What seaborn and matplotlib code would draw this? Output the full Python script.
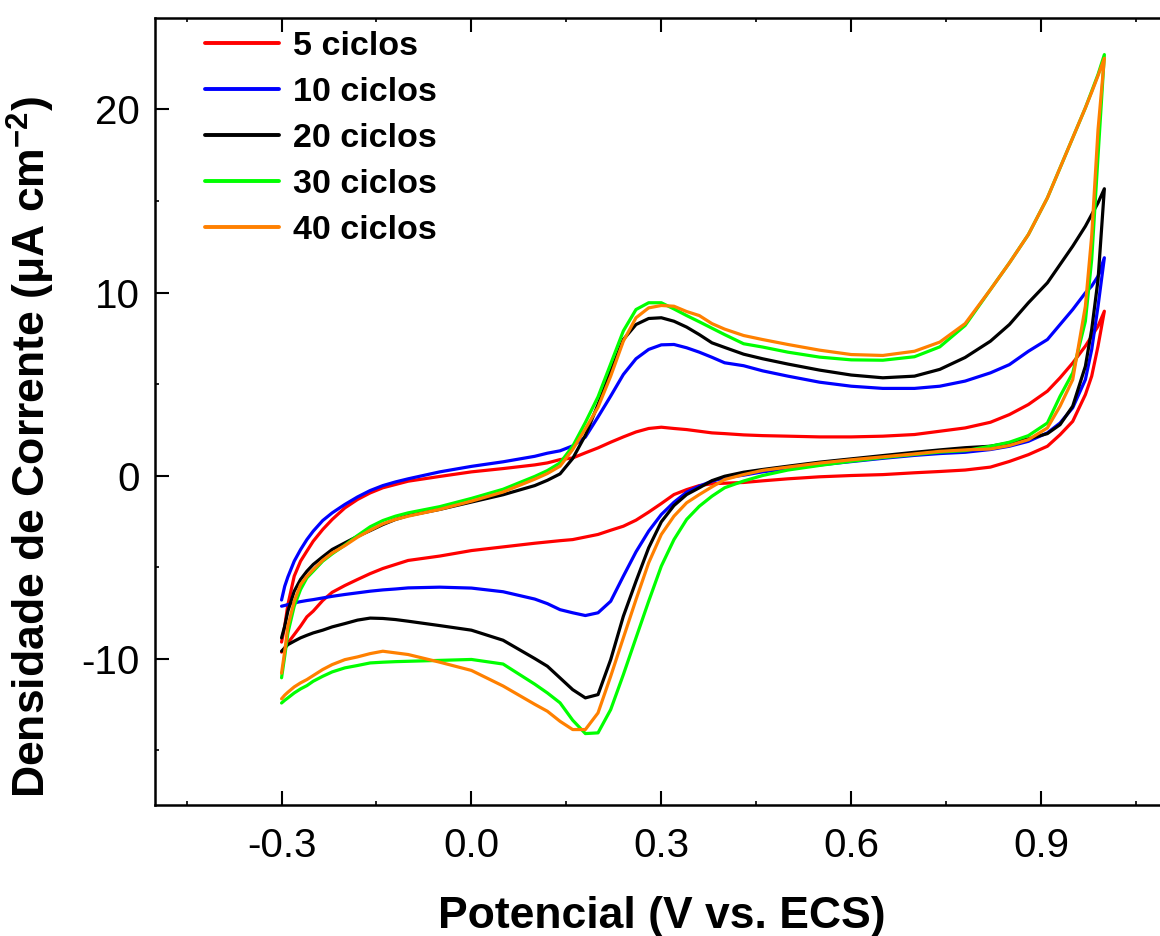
import numpy as np
import pandas as pd
import matplotlib
matplotlib.use("Agg")
import matplotlib.pyplot as plt
import seaborn as sns
from matplotlib.ticker import FixedLocator

# Potential grid (V vs. ECS), ascending
E = [-0.30, -0.295, -0.29, -0.28, -0.27, -0.26, -0.25, -0.235, -0.22, -0.20, -0.18,
     -0.16, -0.14, -0.12, -0.10, -0.05, 0.00, 0.05, 0.10, 0.12, 0.14, 0.16, 0.18,
     0.20, 0.22, 0.24, 0.26, 0.28, 0.30, 0.32, 0.34, 0.36, 0.38, 0.40, 0.43, 0.46,
     0.50, 0.55, 0.60, 0.65, 0.70, 0.74, 0.78, 0.82, 0.85, 0.88, 0.91, 0.93, 0.95,
     0.97, 0.98, 0.99, 1.00]

series_names = ["5 ciclos", "10 ciclos", "20 ciclos", "30 ciclos", "40 ciclos"]
colors = ["#FF0000", "#0000FF", "#000000", "#00FF00", "#FF8000"]

# forward (anodic) and reverse (cathodic) sweep currents, uA cm-2, aligned with E
fwd_5 = [-9.1, -8.23, -7.05, -5.5, -4.68, -4.13, -3.59, -2.95, -2.4, -1.77, -1.31,
         -0.95, -0.67, -0.49, -0.31, -0.05, 0.2, 0.38, 0.58, 0.69, 0.87, 0.96, 1.24,
         1.51, 1.82, 2.11, 2.38, 2.57, 2.64, 2.57, 2.51, 2.42, 2.33, 2.29, 2.22, 2.18,
         2.15, 2.11, 2.11, 2.15, 2.24, 2.42, 2.6, 2.91, 3.33, 3.88, 4.61, 5.34, 6.15,
         7.07, 7.61, 8.16, 8.98]
rev_5 = [-9.65, -9.42, -9.15, -8.69, -8.23, -7.72, -7.41, -6.83, -6.38, -6.01, -5.68,
         -5.36, -5.08, -4.86, -4.64, -4.4, -4.1, -3.9, -3.7, -3.63, -3.56, -3.5, -3.36,
         -3.22, -2.99, -2.77, -2.44, -2.0, -1.53, -1.04, -0.77, -0.55, -0.45, -0.42,
         -0.38, -0.29, -0.18, -0.07, 0.0, 0.05, 0.15, 0.22, 0.3, 0.46, 0.77, 1.14, 1.6,
         2.23, 2.96, 4.42, 5.43, 7.07, 8.98]

fwd_10 = [-6.8, -6.05, -5.54, -4.68, -4.05, -3.5, -3.04, -2.46, -2.04, -1.58, -1.17,
          -0.82, -0.55, -0.35, -0.18, 0.2, 0.5, 0.75, 1.05, 1.22, 1.35, 1.62, 2.1, 3.2,
          4.34, 5.52, 6.38, 6.89, 7.14, 7.16, 6.98, 6.74, 6.46, 6.16, 6.0, 5.72, 5.43,
          5.1, 4.88, 4.76, 4.76, 4.88, 5.16, 5.61, 6.06, 6.79, 7.43, 8.25, 9.07, 9.98,
          10.35, 10.89, 11.9]
rev_10 = [-7.14, -7.1, -7.05, -6.96, -6.89, -6.83, -6.78, -6.69, -6.6, -6.5, -6.41,
          -6.32, -6.25, -6.2, -6.14, -6.1, -6.15, -6.35, -6.75, -7.0, -7.33, -7.5,
          -7.65, -7.5, -6.87, -5.5, -4.17, -3.04, -2.13, -1.46, -0.91, -0.58, -0.31,
          -0.13, 0.02, 0.2, 0.38, 0.58, 0.76, 0.94, 1.1, 1.2, 1.27, 1.42, 1.6, 1.87,
          2.33, 2.87, 3.7, 5.24, 6.88, 9.25, 11.9]

fwd_20 = [-8.87, -8.23, -7.41, -6.32, -5.68, -5.23, -4.86, -4.44, -4.04, -3.68, -3.32,
          -3.01, -2.68, -2.4, -2.19, -1.85, -1.45, -1.05, -0.55, -0.26, 0.09, 0.93, 2.2,
          3.88, 5.7, 7.43, 8.25, 8.58, 8.62, 8.43, 8.11, 7.7, 7.25, 7.0, 6.63, 6.38,
          6.09, 5.76, 5.49, 5.34, 5.43, 5.8, 6.45, 7.34, 8.25, 9.44, 10.53, 11.53,
          12.53, 13.62, 14.26, 14.9, 15.67]
rev_20 = [-9.6, -9.42, -9.24, -9.05, -8.87, -8.73, -8.6, -8.45, -8.27, -8.09, -7.9,
          -7.79, -7.81, -7.87, -7.96, -8.2, -8.45, -9.0, -10.0, -10.42, -11.06, -11.7,
          -12.15, -11.97, -10.06, -7.69, -5.78, -3.95, -2.53, -1.64, -1.04, -0.67,
          -0.28, -0.04, 0.18, 0.33, 0.51, 0.73, 0.91, 1.09, 1.27, 1.4, 1.52, 1.6, 1.78,
          2.0, 2.29, 2.78, 3.79, 5.97, 7.98, 10.7, 15.67]

fwd_30 = [-11.05, -9.87, -8.6, -7.14, -6.23, -5.59, -5.23, -4.68, -4.28, -3.8, -3.28,
          -2.8, -2.46, -2.22, -2.04, -1.7, -1.25, -0.75, -0.05, 0.27, 0.69, 1.6, 2.9,
          4.3, 6.1, 7.9, 9.07, 9.44, 9.44, 9.1, 8.74, 8.4, 8.05, 7.7, 7.2, 7.02, 6.74,
          6.47, 6.32, 6.3, 6.49, 7.03, 8.2, 10.16, 11.62, 13.17, 15.17, 16.81, 18.45,
          20.09, 21.0, 21.91, 23.0]
rev_30 = [-12.43, -12.28, -12.15, -11.88, -11.66, -11.48, -11.24, -10.97, -10.73,
          -10.51, -10.38, -10.24, -10.2, -10.17, -10.15, -10.1, -10.05, -10.3, -11.4,
          -11.88, -12.42, -13.37, -14.1, -14.06, -12.79, -10.88, -8.87, -6.87, -4.95,
          -3.5, -2.4, -1.68, -1.13, -0.67, -0.3, 0.0, 0.3, 0.55, 0.78, 0.98, 1.15, 1.28,
          1.36, 1.6, 1.82, 2.18, 2.87, 4.33, 5.61, 8.43, 11.8, 17.45, 23.0]

fwd_40 = [-10.8, -9.6, -8.23, -6.87, -5.96, -5.5, -5.14, -4.63, -4.23, -3.83, -3.37,
          -2.99, -2.64, -2.4, -2.22, -1.85, -1.4, -0.9, -0.2, 0.11, 0.51, 1.42, 2.55,
          3.73, 5.43, 7.34, 8.62, 9.16, 9.29, 9.25, 8.96, 8.74, 8.3, 8.0, 7.65, 7.43,
          7.16, 6.85, 6.61, 6.56, 6.79, 7.29, 8.3, 10.16, 11.62, 13.17, 15.17, 16.81,
          18.45, 20.09, 20.95, 21.85, 22.8]
rev_40 = [-12.2, -12.0, -11.84, -11.55, -11.33, -11.15, -10.93, -10.6, -10.33, -10.06,
          -9.91, -9.73, -9.6, -9.69, -9.78, -10.2, -10.65, -11.5, -12.5, -12.88, -13.43,
          -13.88, -13.88, -12.97, -10.97, -8.87, -6.78, -4.77, -3.22, -2.22, -1.49,
          -1.04, -0.62, -0.22, 0.05, 0.28, 0.46, 0.68, 0.86, 1.02, 1.18, 1.32, 1.4,
          1.45, 1.64, 1.96, 2.6, 3.79, 5.24, 9.25, 13.1, 18.9, 22.8]

fwds = [fwd_5, fwd_10, fwd_20, fwd_30, fwd_40]
revs = [rev_5, rev_10, rev_20, rev_30, rev_40]
for f, r in zip(fwds, revs):
    assert len(f) == len(E) and len(r) == len(E), (len(f), len(r), len(E))

rows = []
for name, f, r in zip(series_names, fwds, revs):
    e_loop = list(E) + list(E[::-1])
    i_loop = list(f) + list(r[::-1])
    for k, (e, i) in enumerate(zip(e_loop, i_loop)):
        rows.append({"E": e, "I": i, "ciclos": name, "order": k})
df = pd.DataFrame(rows)

sns.set_style("ticks")
plt.rcParams["font.family"] = ["Liberation Sans", "DejaVu Sans"]
plt.rcParams["axes.unicode_minus"] = False
plt.rcParams["mathtext.fontset"] = "custom"
plt.rcParams["mathtext.rm"] = "Liberation Sans:bold"
plt.rcParams["mathtext.default"] = "rm"
for key in ["text.color", "axes.labelcolor", "xtick.color", "ytick.color",
            "axes.edgecolor"]:
    plt.rcParams[key] = "black"

fig = plt.figure(figsize=(11.6, 9.36), dpi=100)
ax = fig.add_axes([0.1336, 0.14, 0.873, 0.8408])

palette = dict(zip(series_names, colors))
sns.lineplot(data=df, x="E", y="I", hue="ciclos", hue_order=series_names,
             palette=palette, sort=False, estimator=None, linewidth=2.3, ax=ax)

ax.set_xlim(-0.5, 1.1)
ax.set_ylim(-18, 25)
xt = [-0.3, 0.0, 0.3, 0.6, 0.9]
ax.xaxis.set_major_locator(FixedLocator(xt))
ax.set_xticklabels([f"{v:.1f}" for v in xt])
ax.xaxis.set_minor_locator(FixedLocator([-0.45, -0.15, 0.15, 0.45, 0.75, 1.05]))
ax.yaxis.set_major_locator(FixedLocator([-10, 0, 10, 20]))
ax.yaxis.set_minor_locator(FixedLocator([-15, -5, 5, 15]))

for s in ax.spines.values():
    s.set_linewidth(1.8)
    s.set_color("black")
ax.tick_params(axis="both", which="major", direction="in", length=10, width=1.5,
               labelsize=29, right=False, colors="black")
ax.tick_params(axis="x", which="major", pad=16, top=True)
ax.tick_params(axis="y", which="major", pad=11)
ax.tick_params(axis="both", which="minor", direction="in", length=3, width=1.2,
               right=False)
ax.tick_params(axis="x", which="minor", top=True)

ax.set_xlabel("Potencial (V vs. ECS)", fontsize=32, fontweight="bold")
ax.set_ylabel("Densidade de Corrente (μA cm$^{-2}$)", fontsize=32, fontweight="bold")
ax.xaxis.set_label_coords(0.5, -0.116)
ax.yaxis.set_label_coords(-0.097, 0.455)

handles, labels = ax.get_legend_handles_labels()
leg = ax.legend(handles, labels, loc="upper left", bbox_to_anchor=(0.049, 0.983),
                frameon=False, borderpad=0, borderaxespad=0, handlelength=2.2,
                handletextpad=0.4, labelspacing=0.44,
                prop={"family": "Liberation Sans", "weight": "bold", "size": 24.5})
for h in leg.get_lines():
    h.set_linewidth(2.8)

fig.savefig("out.png", dpi=100)
